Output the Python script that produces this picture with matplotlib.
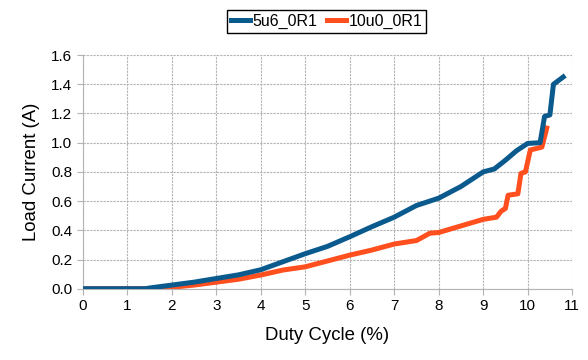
import matplotlib.pyplot as plt

plt.rcParams['font.family'] = ['Liberation Sans', 'DejaVu Sans']

# duty cycle (%) vs load current (A)
duty_5u6 = [0, 0.5, 1.0, 1.4, 1.5, 2.0, 2.5, 3.0, 3.5, 4.0, 4.5, 5.0, 5.5, 6.0,
            6.5, 7.0, 7.5, 7.8, 8.0, 8.5, 9.0, 9.25, 9.5, 9.75, 10.0, 10.28,
            10.38, 10.5, 10.58, 10.8]
current_5u6 = [0, 0, 0, 0, 0.005, 0.025, 0.045, 0.07, 0.095, 0.13, 0.185, 0.24,
               0.29, 0.356, 0.425, 0.49, 0.57, 0.60, 0.62, 0.70, 0.80, 0.82,
               0.88, 0.945, 0.995, 1.00, 1.18, 1.19, 1.40, 1.45]

duty_10u0 = [0, 0.5, 1.0, 1.6, 2.0, 2.5, 3.0, 3.5, 4.0, 4.5, 5.0, 5.5, 6.0, 6.5,
             7.0, 7.5, 7.8, 8.0, 8.5, 9.0, 9.3, 9.4, 9.5, 9.56, 9.78, 9.85,
             9.95, 10.06, 10.32, 10.43]
current_10u0 = [0, 0, 0, 0, 0.01, 0.025, 0.045, 0.065, 0.094, 0.128, 0.15, 0.19,
                0.23, 0.265, 0.306, 0.33, 0.38, 0.385, 0.43, 0.475, 0.49, 0.53,
                0.55, 0.64, 0.65, 0.79, 0.80, 0.95, 0.97, 1.10]

x_ticks = list(range(0, 12))
y_ticks = [0.0, 0.2, 0.4, 0.6, 0.8, 1.0, 1.2, 1.4, 1.6]

fig = plt.figure(figsize=(5.88, 3.6), dpi=100)
ax = fig.add_axes([0.141, 0.198, 0.832, 0.649])

ax.plot(duty_5u6, current_5u6, color='#0b5a8e', lw=3.6, label='5u6_0R1',
        solid_joinstyle='round', zorder=3)
ax.plot(duty_10u0, current_10u0, color='#ff4f1f', lw=3.6, label='10u0_0R1',
        solid_joinstyle='round', zorder=2)

ax.set_xlim(0, 11)
ax.set_ylim(0, 1.6)
ax.set_xticks(x_ticks)
ax.set_yticks(y_ticks)
ax.set_yticklabels([f'{v:.1f}' for v in y_ticks])
ax.tick_params(labelsize=11, color='#b3b3b3', length=4)
ax.grid(True, color='#b3b3b3', ls=(0, (2, 1)), lw=0.8)
for s in ['top', 'right']:
    ax.spines[s].set_visible(False)
for s in ['left', 'bottom']:
    ax.spines[s].set_color('#b3b3b3')

ax.set_xlabel('Duty Cycle (%)', fontsize=13.4, labelpad=10)
ax.set_ylabel('Load Current (A)', fontsize=13.4, labelpad=8)

fig.legend(loc='upper center', bbox_to_anchor=(0.555, 0.995), ncol=2,
           fontsize=11.5, frameon=True, fancybox=False, edgecolor='black',
           handlelength=1.2, handletextpad=0.15, columnspacing=0.6,
           borderpad=0.25, framealpha=1)

fig.savefig('out.png', dpi=100)
